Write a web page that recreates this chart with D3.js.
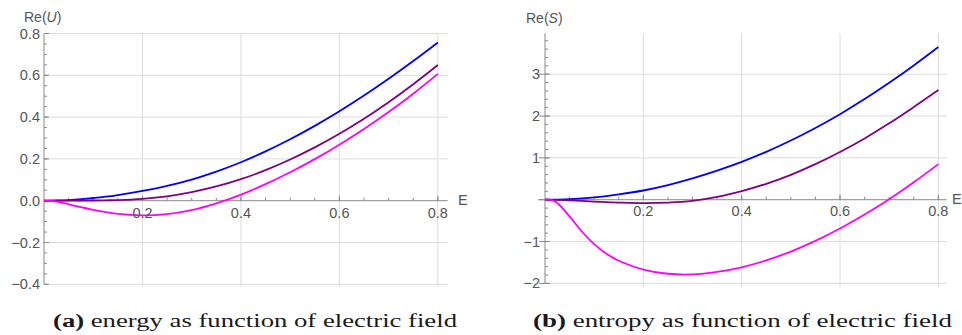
<!DOCTYPE html>
<html><head><meta charset="utf-8">
<script src="https://cdn.jsdelivr.net/npm/d3@7"></script>
<style>body{margin:0;background:#fff}svg{display:block}</style>
</head><body>
<svg id="c" width="962" height="335"></svg>
<script>
// ---- data ----
const E = [0, 0.0125, 0.025, 0.05, 0.075, 0.1, 0.125, 0.15, 0.2, 0.25, 0.3, 0.35, 0.4, 0.45, 0.5, 0.55, 0.6, 0.65, 0.7, 0.75, 0.8];
// panel (a): Re(U)
const U_blue    = [0, 0.0005, 0.001, 0.003, 0.007, 0.013, 0.019, 0.027, 0.047, 0.071, 0.101, 0.139, 0.184, 0.236, 0.294, 0.358, 0.428, 0.503, 0.583, 0.668, 0.757];
const U_purple  = [0, 0, 0, 0, 0.001, 0.001, 0.002, 0.003, 0.009, 0.021, 0.041, 0.068, 0.103, 0.146, 0.197, 0.255, 0.320, 0.392, 0.471, 0.557, 0.649];
const U_magenta = [0, -0.001, -0.004, -0.017, -0.031, -0.044, -0.055, -0.063, -0.070, -0.064, -0.045, -0.013, 0.029, 0.079, 0.136, 0.199, 0.268, 0.343, 0.424, 0.512, 0.607];
// panel (b): Re(S)
const S_blue    = [0, 0.001, 0.004, 0.014, 0.032, 0.055, 0.087, 0.125, 0.22, 0.35, 0.51, 0.695, 0.905, 1.145, 1.415, 1.715, 2.045, 2.405, 2.795, 3.21, 3.65];
const S_purple  = [0, -0.002, -0.005, -0.015, -0.030, -0.045, -0.058, -0.068, -0.080, -0.070, -0.030, 0.065, 0.205, 0.380, 0.595, 0.850, 1.140, 1.465, 1.825, 2.215, 2.62];
const S_magenta = [0, -0.005, -0.08, -0.40, -0.76, -1.06, -1.29, -1.46, -1.67, -1.77, -1.785, -1.725, -1.615, -1.45, -1.24, -0.985, -0.69, -0.355, 0.01, 0.415, 0.85];

const xTicks = [0.2, 0.4, 0.6, 0.8];
const xMinor = d3.range(0.05, 0.801, 0.05);
const yTicksU = [-0.4, -0.2, 0.0, 0.2, 0.4, 0.6, 0.8];
const yMinorU = d3.range(-0.4, 0.801, 0.05);
const yTicksS = [-2, -1, 0, 1, 2, 3];
const yMinorS = d3.range(-2, 3.9, 0.2);

const colors = {blue: "#0000ff", purple: "#800080", magenta: "#ff00ff"};

const svg = d3.select("#c");
const labelFont = "Liberation Sans, Arial, sans-serif";
const textCol = "#555";

function panel(cfg) {
  const x = d3.scaleLinear().domain(cfg.xDom).range(cfg.xRange);
  const y = d3.scaleLinear().domain(cfg.yDom).range(cfg.yRange);
  const g = svg.append("g");
  const x0 = x(0), y0 = y(0);
  const xEnd = cfg.xRange[1];
  // grid
  g.selectAll(".gv").data(xTicks).enter().append("line")
    .attr("x1", d => x(d)).attr("x2", d => x(d))
    .attr("y1", cfg.yRange[1]).attr("y2", cfg.yRange[0] + cfg.gridExtra)
    .attr("stroke", "#dcdcdc").attr("stroke-width", 1);
  g.selectAll(".gh").data(cfg.yTicks.filter(d => d !== 0)).enter().append("line")
    .attr("x1", x0).attr("x2", xEnd)
    .attr("y1", d => y(d)).attr("y2", d => y(d))
    .attr("stroke", "#dcdcdc").attr("stroke-width", 1);
  // axes
  const axCol = "#8a8a8a";
  g.append("line").attr("x1", x0 - cfg.xAxisLeft).attr("x2", xEnd).attr("y1", y0).attr("y2", y0)
    .attr("stroke", axCol).attr("stroke-width", 1);
  g.append("line").attr("x1", x0).attr("x2", x0).attr("y1", cfg.yRange[1]).attr("y2", y(cfg.yTicks[0]))
    .attr("stroke", axCol).attr("stroke-width", 1);
  // x ticks
  g.selectAll(".xm").data(xMinor).enter().append("line")
    .attr("x1", d => x(d)).attr("x2", d => x(d)).attr("y1", y0).attr("y2", y0 - 3)
    .attr("stroke", axCol);
  g.selectAll(".xM").data(xTicks).enter().append("line")
    .attr("x1", d => x(d)).attr("x2", d => x(d)).attr("y1", y0).attr("y2", y0 - 5)
    .attr("stroke", axCol);
  // y ticks
  g.selectAll(".ym").data(cfg.yMinor).enter().append("line")
    .attr("x1", x0).attr("x2", x0 + 3).attr("y1", d => y(d)).attr("y2", d => y(d))
    .attr("stroke", axCol);
  g.selectAll(".yM").data(cfg.yTicks).enter().append("line")
    .attr("x1", x0 - cfg.yTickOut).attr("x2", x0 + 5).attr("y1", d => y(d)).attr("y2", d => y(d))
    .attr("stroke", axCol);
  // curves
  const line = d3.line().x((d, i) => x(E[i])).y(d => y(d)).curve(d3.curveCatmullRom.alpha(0.5));
  cfg.series.forEach(s => {
    g.append("path").attr("d", line(s.v)).attr("fill", "none")
      .attr("stroke", s.c).attr("stroke-width", 1.8).attr("stroke-linejoin", "round");
  });
  // tick labels
  g.selectAll(".xl").data(xTicks).enter().append("text")
    .attr("x", d => x(d)).attr("y", y0 + cfg.xLabDy)
    .attr("text-anchor", "middle").attr("dominant-baseline", "central")
    .attr("font-family", labelFont).attr("font-size", 14.5).attr("fill", textCol)
    .text(d => d3.format(".1f")(d));
  g.selectAll(".yl").data(cfg.yTicks.filter(cfg.yLabFilter)).enter().append("text")
    .attr("x", x0 - cfg.yLabDx).attr("y", d => y(d))
    .attr("text-anchor", "end").attr("dominant-baseline", "central")
    .attr("font-family", labelFont).attr("font-size", 14.5).attr("fill", textCol)
    .text(d => cfg.yFmt(d).replace("-", "\u2212"));
  // axis labels
  g.append("text").attr("x", cfg.eX).attr("y", y0 - 1).attr("dominant-baseline", "central")
    .attr("font-family", labelFont).attr("font-size", 14.5).attr("fill", textCol).text("E");
  const t = g.append("text").attr("x", cfg.titleX).attr("y", cfg.titleY).attr("dominant-baseline", "central")
    .attr("font-family", labelFont).attr("font-size", 14).attr("fill", textCol);
  t.append("tspan").text("Re(");
  t.append("tspan").attr("font-style", "italic").text(cfg.sym);
  t.append("tspan").text(")");
  // caption
  const cap = svg.append("text").attr("x", cfg.capX).attr("y", 327)
    .attr("font-family", "Liberation Serif, DejaVu Serif, serif").attr("font-size", 18.5).attr("fill", "#1a1a1a")
    .attr("textLength", cfg.capLen).attr("lengthAdjust", "spacingAndGlyphs");
  cap.append("tspan").attr("font-weight", "bold").text(cfg.capTag);
  cap.append("tspan").text(" " + cfg.capText);
}

panel({
  xDom: [0, 0.82], xRange: [44, 447.7],
  yDom: [-0.4, 0.8], yRange: [284.3, 33.5], gridExtra: 2.5,
  yTicks: yTicksU, yMinor: yMinorU, yTickOut: 0, xAxisLeft: 0,
  yLabFilter: d => true, yFmt: d3.format(".1f"), yLabDx: 4,
  xLabDy: 12, eX: 458,
  series: [{v: U_blue, c: colors.blue}, {v: U_purple, c: colors.purple}, {v: U_magenta, c: colors.magenta}],
  titleX: 24, titleY: 16.5, sym: "U",
  capX: 53, capLen: 404, capTag: "(a)", capText: "energy as function of electric field"
});

panel({
  xDom: [0, 0.817], xRange: [545, 946.7],
  yDom: [-2.094, 3.978], yRange: [287.3, 33.3], gridExtra: 0,
  yTicks: yTicksS, yMinor: yMinorS, yTickOut: 6, xAxisLeft: 7,
  yLabFilter: d => d !== 0, yFmt: d3.format("d"), yLabDx: 5,
  xLabDy: 11.5, eX: 952,
  series: [{v: S_blue, c: colors.blue}, {v: S_purple, c: colors.purple}, {v: S_magenta, c: colors.magenta}],
  titleX: 526, titleY: 18.3, sym: "S",
  capX: 533, capLen: 419, capTag: "(b)", capText: "entropy as function of electric field"
});
</script>
</body></html>
